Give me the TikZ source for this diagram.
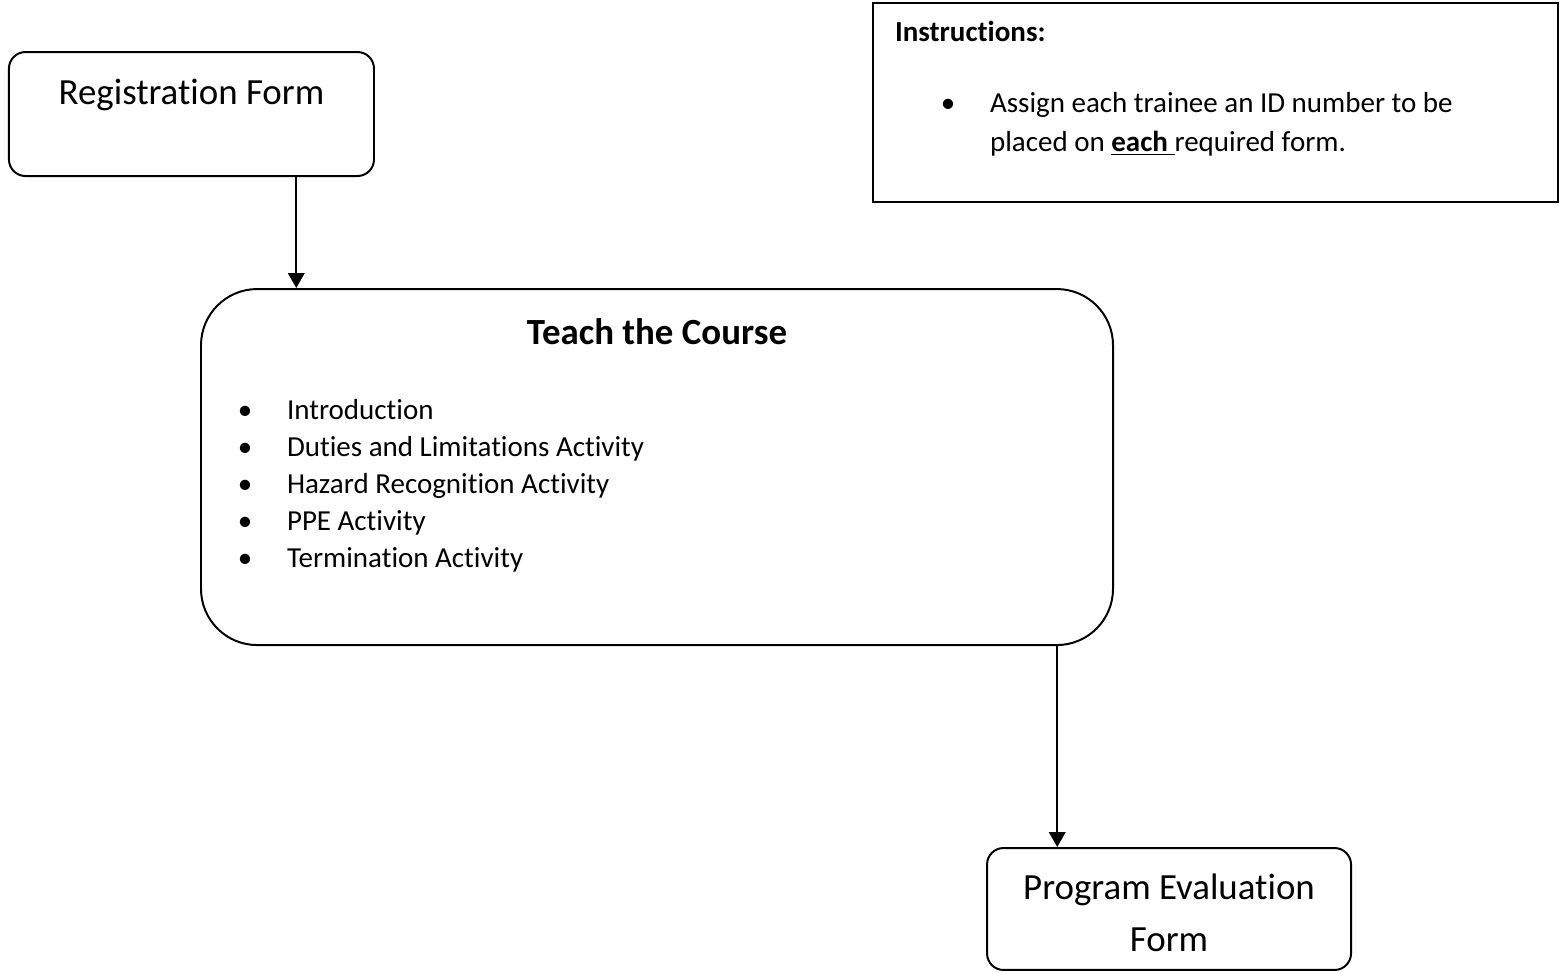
\documentclass[tikz,border=0pt]{standalone}
\usepackage{fontspec}
\setmainfont{Carlito}[Ligatures=NoCommon]
\usetikzlibrary{arrows.meta}

% bullet centred at #1 from the left edge, text 0.56cm after it
\newcommand{\bulitem}[1]{\hspace*{#1}\makebox[0pt]{\textbullet}\hspace*{0.56cm}}

\begin{document}
\begin{tikzpicture}[
    form/.style={draw,line width=.75pt,rounded corners=.22cm,inner sep=0pt,
        font={\fontsize{14}{19.7}\selectfont}},
    panel/.style={draw,line width=.75pt,rounded corners=.75cm,inner sep=0pt},
    note/.style={draw,line width=.75pt,inner sep=0pt},
    flow/.style={-{Triangle[width=.22cm,length=.2cm]},line width=.75pt},
    ]
    % Page
    \useasboundingbox (0,0) rectangle (20.88,12.947);
    % Registration form
    \node[form,minimum width=4.867cm,text height=.693cm,text depth=.96cm,
          anchor=base] (reg) at (2.553,11.56) {Registration Form};
    % Instructions
    \node[note,text height=.507cm,text depth=2.147cm,anchor=base]
         (instr) at (16.207,12.4)
         {\parbox[t]{9.133cm}{\fontsize{11}{14.8}\selectfont
          \hspace*{0.293cm}\textbf{Instructions:}\par
          \vspace{12.14pt}
          \bulitem{1cm}Assign each trainee an ID number to be\\
          \hspace*{1.56cm}placed on \underline{\textbf{each }}required form.}};
    % Course
    \node[panel,text height=.733cm,text depth=4.014cm,anchor=base]
         (teach) at (8.76,8.36)
         {\parbox[t]{12.16cm}{%
          {\centering\fontsize{14}{17}\selectfont\bfseries Teach the Course\par}
          \fontsize{11}{14}\selectfont
          \vspace{14.8pt}
          \bulitem{.587cm}Introduction\\
          \bulitem{.587cm}Duties and Limitations Activity\\
          \bulitem{.587cm}Hazard Recognition Activity\\
          \bulitem{.587cm}PPE Activity\\
          \bulitem{.587cm}Termination Activity}};
    % Evaluation form
    \node[form,text height=.693cm,text depth=.933cm,anchor=base]
         (prog) at (15.587,.947)
         {\parbox[t]{4.853cm}{\centering Program Evaluation\\Form}};
    % Flow
    \draw[flow] (reg.-31) -- (reg.-31 |- teach.north);
    \draw[flow] (prog.151 |- teach.south) -- (prog.151);
\end{tikzpicture}
\end{document}
